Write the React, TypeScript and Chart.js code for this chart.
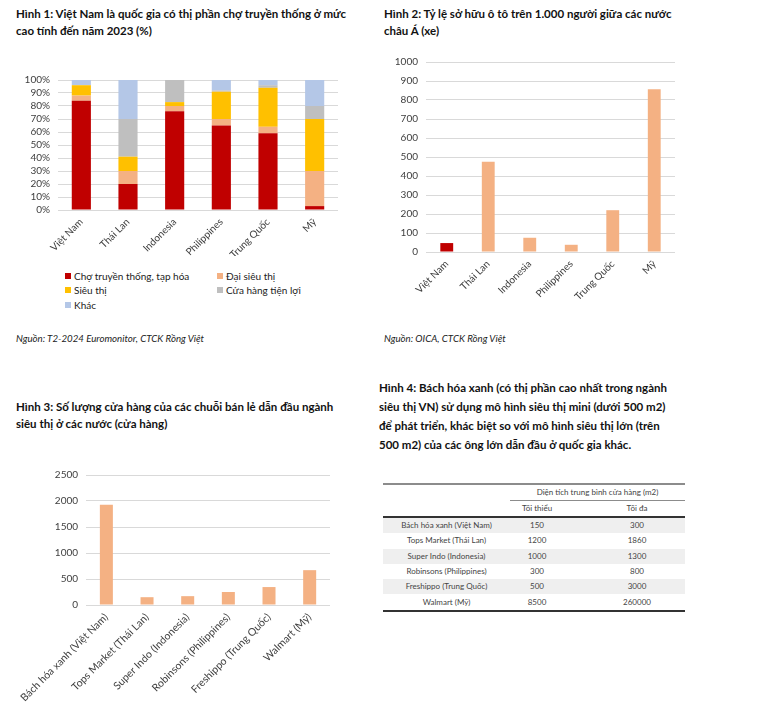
import React, { useEffect, useRef } from "react";
import { Chart, registerables } from "chart.js";
Chart.register(...registerables);

const FONT = "Lato, 'Noto Sans', sans-serif";

// Figure 1
const countries = ["Việt Nam", "Thái Lan", "Indonesia", "Philippines", "Trung Quốc", "Mỹ"];
const traditional = [84, 20, 76, 65, 59, 3];
const hypermarket = [4, 10, 4, 5, 5, 27];
const supermarket = [8, 11, 3, 21, 30, 40];
const convenience = [0, 29, 17, 1, 2, 10];
const others = [4, 30, 0, 8, 4, 20];
const seriesNames1 = ["Chợ truyền thống, tạp hóa", "Đại siêu thị", "Siêu thị", "Cửa hàng tiện lợi", "Khác"];
const seriesColors1 = ["#C00000", "#F4B183", "#FFC000", "#BFBFBF", "#B4C7E7"];

// Figure 2
const carOwnership = [47, 475, 75, 38, 220, 857];

// Figure 3
const chains = [
  "Bách hóa xanh (Việt Nam)",
  "Tops Market (Thái Lan)",
  "Super Indo (Indonesia)",
  "Robinsons (Philippines)",
  "Freshippo (Trung Quốc)",
  "Walmart (Mỹ)",
];
const storeCounts = [1930, 150, 170, 250, 345, 670];

// Figure 4 (table)
const minArea = [150, 1200, 1000, 300, 500, 8500];
const maxArea = [300, 1860, 1300, 800, 3000, 260000];

const GRID = "#D9D9D9";
const TICK = "#404040";

function ChartBox({ make, style }: { make: () => any; style: React.CSSProperties }) {
  const ref = useRef<HTMLCanvasElement>(null);
  useEffect(() => {
    const chart = new Chart(ref.current as HTMLCanvasElement, make());
    return () => chart.destroy();
  }, []);
  return (
    <div style={{ position: "absolute", ...style }}>
      <canvas ref={ref} />
    </div>
  );
}

function baseOptions(opts: {
  yMax: number;
  step: number;
  yWidth: number;
  xHeight: number;
  pad: any;
  xFont?: number;
  stacked?: boolean;
  pct?: boolean;
}) {
  return {
    responsive: true,
    maintainAspectRatio: false,
    animation: false,
    layout: { padding: opts.pad },
    plugins: { legend: { display: false }, tooltip: { enabled: false } },
    scales: {
      x: {
        stacked: !!opts.stacked,
        grid: { display: false, drawTicks: false },
        border: { display: false },
        ticks: {
          minRotation: 45,
          maxRotation: 45,
          autoSkip: false,
          padding: 6,
          color: TICK,
          font: { family: FONT, size: opts.xFont || 10 },
        },
        afterFit: (s: any) => {
          s.height = opts.xHeight;
        },
      },
      y: {
        stacked: !!opts.stacked,
        min: 0,
        max: opts.yMax,
        grid: { color: GRID, drawTicks: false, lineWidth: 1 },
        border: { display: false },
        ticks: {
          stepSize: opts.step,
          autoSkip: false,
          padding: 8,
          color: TICK,
          font: { family: FONT, size: 10 },
          callback: (v: any) => (opts.pct ? v + "%" : v),
        },
        afterFit: (s: any) => {
          s.width = opts.yWidth;
        },
      },
    },
  };
}

const titleStyle: React.CSSProperties = {
  position: "absolute",
  fontWeight: 700,
  fontSize: 11.5,
  lineHeight: "17px",
  color: "#111",
  whiteSpace: "nowrap",
};
const sourceStyle: React.CSSProperties = {
  position: "absolute",
  fontStyle: "italic",
  fontSize: 9.7,
  lineHeight: "14px",
  color: "#222",
  whiteSpace: "nowrap",
};

export default function App() {
  const fig1 = () => ({
    type: "bar",
    data: {
      labels: countries,
      datasets: [traditional, hypermarket, supermarket, convenience, others].map((d, i) => ({
        label: seriesNames1[i],
        data: d,
        backgroundColor: seriesColors1[i],
        barPercentage: 0.41,
        categoryPercentage: 1,
      })),
    },
    options: baseOptions({ yMax: 100, step: 10, yWidth: 58, xHeight: 46, pad: { top: 10, right: 7, left: 0, bottom: 0 }, stacked: true, pct: true }),
  });

  const fig2 = () => ({
    type: "bar",
    data: {
      labels: countries,
      datasets: [
        {
          data: carOwnership,
          backgroundColor: carOwnership.map((_, i) => (i === 0 ? "#C00000" : "#F4B183")),
          barPercentage: 0.31,
          categoryPercentage: 1,
        },
      ],
    },
    options: baseOptions({ yMax: 1000, step: 100, yWidth: 46, xHeight: 58, pad: { top: 10, right: 5, left: 0, bottom: 0 } }),
  });

  const fig3 = () => ({
    type: "bar",
    data: {
      labels: chains,
      datasets: [
        {
          data: storeCounts,
          backgroundColor: "#F4B183",
          barPercentage: 0.32,
          categoryPercentage: 1,
        },
      ],
    },
    options: baseOptions({ yMax: 2500, step: 500, yWidth: 76, xHeight: 102, xFont: 10.5, pad: { top: 10, right: 5, left: 0, bottom: 0 } }),
  });

  const legendItem = (i: number, left: number, top: number) => (
    <div key={i} style={{ position: "absolute", left, top, fontSize: 10, lineHeight: "14px", color: "#222", whiteSpace: "nowrap", display: "flex", alignItems: "center" }}>
      <span style={{ display: "inline-block", width: 6, height: 6, background: seriesColors1[i], marginRight: 3 }} />
      {seriesNames1[i]}
    </div>
  );

  const cell: React.CSSProperties = { textAlign: "center", padding: 0, height: 15.3, lineHeight: "15px" };

  return (
    <div style={{ position: "absolute", left: 0, top: 0, width: 769, height: 710, background: "#fff", fontFamily: FONT, overflow: "hidden" }}>
      {/* Figure 1 */}
      <div style={{ ...titleStyle, left: 16, top: 5 }}>
        Hình 1: Việt Nam là quốc gia có thị phần chợ truyền thống ở mức
        <br />
        cao tính đến năm 2023 (%)
      </div>
      <ChartBox make={fig1} style={{ left: 0, top: 66, width: 345, height: 190 }} />
      {legendItem(0, 65, 269)}
      {legendItem(1, 217, 269)}
      {legendItem(2, 65, 283)}
      {legendItem(3, 217, 283)}
      {legendItem(4, 65, 298)}
      <div style={{ ...sourceStyle, left: 16, top: 331 }}>Nguồn: T2-2024 Euromonitor, CTCK Rồng Việt</div>

      {/* Figure 2 */}
      <div style={{ ...titleStyle, left: 384, top: 5 }}>
        Hình 2: Tỷ lệ sở hữu ô tô trên 1.000 người giữa các nước
        <br />
        châu Á (xe)
      </div>
      <ChartBox make={fig2} style={{ left: 380, top: 48, width: 300, height: 262 }} />
      <div style={{ ...sourceStyle, left: 384, top: 331 }}>Nguồn: OICA, CTCK Rồng Việt</div>

      {/* Figure 3 */}
      <div style={{ ...titleStyle, left: 16, top: 398 }}>
        Hình 3: Số lượng cửa hàng của các chuỗi bán lẻ dẫn đầu ngành
        <br />
        siêu thị ở các nước (cửa hàng)
      </div>
      <ChartBox make={fig3} style={{ left: 10, top: 461, width: 325, height: 246 }} />

      {/* Figure 4 */}
      <div style={{ ...titleStyle, left: 379, top: 378, lineHeight: "19px" }}>
        Hình 4: Bách hóa xanh (có thị phần cao nhất trong ngành
        <br />
        siêu thị VN) sử dụng mô hình siêu thị mini (dưới 500 m2)
        <br />
        để phát triển, khác biệt so với mô hình siêu thị lớn (trên
        <br />
        500 m2) của các ông lớn dẫn đầu ở quốc gia khác.
      </div>
      <table
        style={{
          position: "absolute",
          left: 383,
          top: 483,
          width: 302,
          borderCollapse: "collapse",
          fontSize: 8,
          color: "#444",
          tableLayout: "fixed",
          borderTop: "2px solid #8c8c8c",
          borderBottom: "2px solid #333",
        }}
      >
        <colgroup>
          <col style={{ width: 127 }} />
          <col style={{ width: 54 }} />
          <col style={{ width: 121 }} />
        </colgroup>
        <tbody>
          <tr>
            <td style={{ ...cell, height: 14 }} />
            <td colSpan={2} style={{ ...cell, height: 14, borderBottom: "1px solid #8c8c8c" }}>
              Diện tích trung bình cửa hàng (m2)
            </td>
          </tr>
          <tr style={{ borderBottom: "2px solid #333" }}>
            <td style={{ ...cell, height: 14 }} />
            <td style={{ ...cell, height: 14 }}>Tối thiểu</td>
            <td style={{ ...cell, height: 14, paddingLeft: 25 }}>Tối đa</td>
          </tr>
          {chains.map((c, i) => (
            <tr key={c} style={{ background: i % 2 === 0 ? "#EFEFEF" : "#fff" }}>
              <td style={cell}>{c}</td>
              <td style={cell}>{minArea[i]}</td>
              <td style={{ ...cell, paddingLeft: 25 }}>{maxArea[i]}</td>
            </tr>
          ))}
        </tbody>
      </table>
    </div>
  );
}
